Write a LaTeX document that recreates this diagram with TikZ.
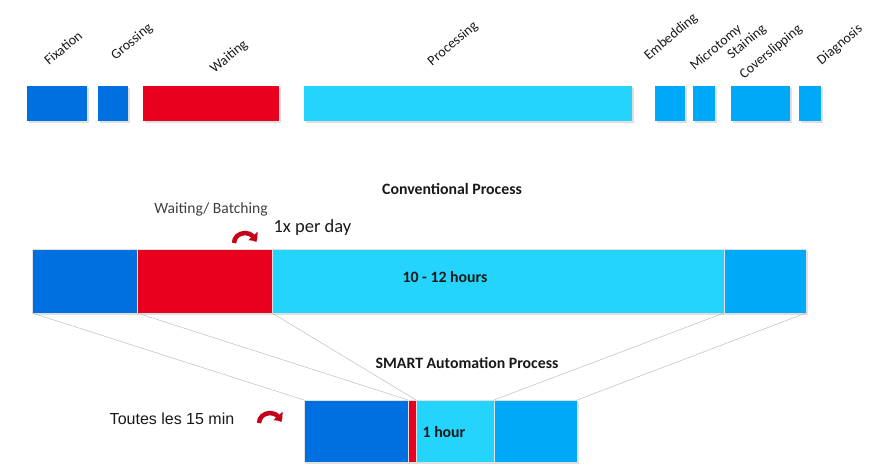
\documentclass[tikz,border=0pt]{standalone}
\usepackage{xcolor}
\usepackage{fontspec}
\setmainfont{Carlito}
\newfontfamily\arialfont{Liberation Sans}
\usepackage{tikz}
\usetikzlibrary{arrows.meta, bending, positioning, calc, shadows}

\definecolor{fixblue}{RGB}{0,112,224}
\definecolor{waitred}{RGB}{232,0,30}
\definecolor{proccyan}{RGB}{36,212,252}
\definecolor{restblue}{RGB}{0,168,248}
\definecolor{linkgray}{RGB}{190,190,190}
\definecolor{txtdark}{RGB}{25,25,25}

\begin{document}
\begin{tikzpicture}[x=1pt,y=-1pt,
			bar/.style={draw=none,inner sep=0pt,outer sep=0pt,anchor=north west,
				drop shadow={shadow xshift=1.5pt,shadow yshift=-1.5pt,opacity=.25}},
			topbar/.style={bar,minimum height=35pt},
			midbar/.style={bar,minimum height=64pt,draw=black!12,line width=.4pt},
			lowbar/.style={bar,minimum height=62pt,draw=black!12,line width=.4pt},
			steplabel/.style={rotate=40,inner sep=0pt,font=\fontsize{14}{16}\selectfont,text=txtdark},
			title/.style={font=\fontsize{15.8}{18}\selectfont\bfseries,text=txtdark},
			link/.style={draw=linkgray,line width=.5pt},
			turnarrow/.style={draw=waitred!85!black,line width=4.5pt,
				-{Triangle[length=7pt,width=12pt,bend]}}]
			
			\useasboundingbox (0,0) rectangle (869,464);
			
			% top row
			\node[topbar,fill=fixblue,minimum width=60pt] (tfix) at (27,86) {};
			\node[topbar,fill=fixblue,minimum width=30pt] (tgross) at (98,86) {};
			\node[topbar,fill=waitred,minimum width=136pt] (twait) at (143,86) {};
			\node[topbar,fill=proccyan,minimum width=328pt] (tproc) at (304,86) {};
			\node[topbar,fill=restblue,minimum width=30pt] (temb) at (655,86) {};
			\node[topbar,fill=restblue,minimum width=22pt] (tmic) at (693,86) {};
			\node[topbar,fill=restblue,minimum width=59pt] (tstain) at (731,86) {};
			\node[topbar,fill=restblue,minimum width=22pt] (tdiag) at (799,86) {};
			
			\node[steplabel] (lfix) at (63,48) {Fixation};
			\node[steplabel] (lgross) at (132,42) {Grossing};
			\node[steplabel] (lwait) at (229,57) {Waiting};
			\node[steplabel] (lproc) at (453,44) {Processing};
			\node[steplabel] (lemb) at (671,37) {Embedding};
			\node[steplabel] (lmic) at (716,48) {Microtomy};
			\node[steplabel] (lstain) at (747,42) {Staining};
			\node[steplabel] (lcover) at (771,52) {Coverslipping};
			\node[steplabel] (ldiag) at (840,45) {Diagnosis};
			
			% conventional process
			\node[title] (conv) at (452,189) {Conventional Process};
			\node[font=\fontsize{15.6}{18}\selectfont,text=black!75] (batch) at (211,209) {Waiting/ Batching};
			\node[font=\fontsize{18.5}{21}\selectfont,text=txtdark,anchor=west] (perday) at (270,228) {1x per day};
			
			\node[midbar,fill=fixblue,minimum width=105pt] (mfix) at (32,249) {};
			\node[midbar,fill=waitred,minimum width=135pt] (mwait) at (137,249) {};
			\node[midbar,fill=proccyan,minimum width=452pt] (mproc) at (272,249) {};
			\node[midbar,fill=restblue,minimum width=82pt] (mrest) at (724,249) {};
			\node[title] (mhours) at (445,277) {10 - 12 hours};
			
			\draw[turnarrow] (234,243) arc[start angle=180,end angle=355,x radius=11,y radius=10];
			
			% SMART automation process
			\node[title] (smart) at (467,363) {SMART Automation Process};
			\node[font=\fontsize{16}{19}\selectfont\arialfont,text=txtdark] (every) at (172,419) {Toutes les 15 min};
			
			\node[lowbar,fill=fixblue,minimum width=104pt] (sfix) at (304,400) {};
			\node[lowbar,fill=waitred,minimum width=8pt] (swait) at (408,400) {};
			\node[lowbar,fill=proccyan,minimum width=78pt] (sproc) at (416,400) {};
			\node[lowbar,fill=restblue,minimum width=83pt] (srest) at (494,400) {};
			\node[title] (shour) at (444,432) {1 hour};
			
			\draw[turnarrow] (259,423) arc[start angle=180,end angle=355,x radius=11,y radius=10];
			
			\path[link]
			(mfix.south west) edge (sfix.north west)
			(mwait.south west) edge (swait.north west)
			(mproc.south west) edge (swait.north east)
			(mrest.south west) edge (srest.north west)
			(mrest.south east) edge (srest.north east);
		\end{tikzpicture}
\end{document}
